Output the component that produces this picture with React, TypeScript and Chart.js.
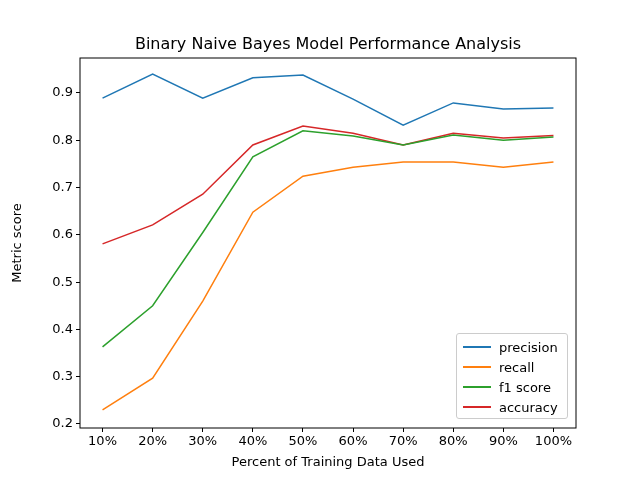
import { useEffect, useRef } from "react"
import { Chart, registerables } from "chart.js"

Chart.register(...registerables)

const categories = ["10%", "20%", "30%", "40%", "50%", "60%", "70%", "80%", "90%", "100%"]
const precision = [0.889, 0.94, 0.889, 0.932, 0.938, 0.887, 0.832, 0.879, 0.866, 0.868]
const recall = [0.23, 0.297, 0.46, 0.648, 0.724, 0.743, 0.754, 0.754, 0.743, 0.754]
const f1Score = [0.363, 0.45, 0.605, 0.765, 0.82, 0.809, 0.79, 0.811, 0.8, 0.807]
const accuracy = [0.581, 0.621, 0.686, 0.79, 0.83, 0.815, 0.79, 0.815, 0.805, 0.81]
const yTicks = [0.2, 0.3, 0.4, 0.5, 0.6, 0.7, 0.8, 0.9]

const seriesList = [
  { label: "precision", data: precision, color: "#1f77b4" },
  { label: "recall", data: recall, color: "#ff7f0e" },
  { label: "f1 score", data: f1Score, color: "#2ca02c" },
  { label: "accuracy", data: accuracy, color: "#d62728" },
]

const FONT = "'DejaVu Sans', sans-serif"

const frame = {
  id: "frame",
  afterDraw(chart: Chart) {
    const { ctx, chartArea: a } = chart
    ctx.save()
    ctx.strokeStyle = "#000"
    ctx.lineWidth = 1
    ctx.strokeRect(a.left, a.top, a.right - a.left, a.bottom - a.top)
    ctx.restore()
  },
}

export default function App() {
  const ref = useRef<HTMLCanvasElement>(null)
  const inst = useRef<Chart | null>(null)

  useEffect(() => {
    if (!ref.current) return
    if (inst.current) inst.current.destroy()
    inst.current = new Chart(ref.current, {
      type: "line",
      data: {
        datasets: seriesList.map((s) => ({
          label: s.label,
          data: s.data.map((v, i) => ({ x: i, y: v })),
          borderColor: s.color,
          backgroundColor: s.color,
          borderWidth: 1.5,
          pointRadius: 0,
          tension: 0,
        })),
      },
      plugins: [frame],
      options: {
        responsive: false,
        animation: false,
        layout: { padding: { left: 8, right: 64, top: 58, bottom: 8 } },
        plugins: { legend: { display: false }, tooltip: { enabled: false } },
        scales: {
          x: {
            type: "linear",
            min: -0.45,
            max: 9.45,
            afterBuildTicks: (s: any) => {
              s.ticks = categories.map((_, i) => ({ value: i }))
            },
            afterFit: (s: any) => {
              s.height = 44
            },
            grid: { drawOnChartArea: false, tickLength: 4, color: "#000" },
            border: { display: false },
            ticks: {
              color: "#000",
              font: { family: FONT, size: 13 },
              maxRotation: 0,
              padding: 2,
              callback: (v: any) => categories[v] ?? "",
            },
            title: { display: true, text: "Percent of Training Data Used", color: "#000", font: { family: FONT, size: 13 }, padding: 2 },
          },
          y: {
            min: 0.1915,
            max: 0.974,
            afterBuildTicks: (s: any) => {
              s.ticks = yTicks.map((v) => ({ value: v }))
            },
            afterFit: (s: any) => {
              s.width = 72
            },
            grid: { drawOnChartArea: false, tickLength: 4, color: "#000" },
            border: { display: false },
            ticks: { color: "#000", font: { family: FONT, size: 13 }, padding: 3, callback: (v: any) => Number(v).toFixed(1) },
            title: { display: true, text: "Metric score", color: "#000", font: { family: FONT, size: 13 }, padding: 2 },
          },
        },
      },
    })
    return () => {
      if (inst.current) inst.current.destroy()
      inst.current = null
    }
  }, [])

  return (
    <div style={{ position: "absolute", left: 0, top: 0, width: 640, height: 480, background: "#fff", fontFamily: FONT }}>
      <canvas ref={ref} width={640} height={480}></canvas>
      <div style={{ position: "absolute", top: 34, left: 80, width: 496, textAlign: "center", fontSize: 16, color: "#000" }}>
        Binary Naive Bayes Model Performance Analysis
      </div>
      <div
        style={{
          position: "absolute", left: 456, top: 333, width: 112, height: 86, boxSizing: "border-box",
          border: "1px solid #ccc", borderRadius: 3, background: "rgba(255,255,255,0.8)", padding: "3px 6px",
        }}
      >
        {seriesList.map((s) => (
          <div key={s.label} style={{ display: "flex", alignItems: "center", height: 20, fontSize: 13 }}>
            <div style={{ width: 28, height: 2, background: s.color, marginRight: 8 }}></div>
            <span>{s.label}</span>
          </div>
        ))}
      </div>
    </div>
  )
}
